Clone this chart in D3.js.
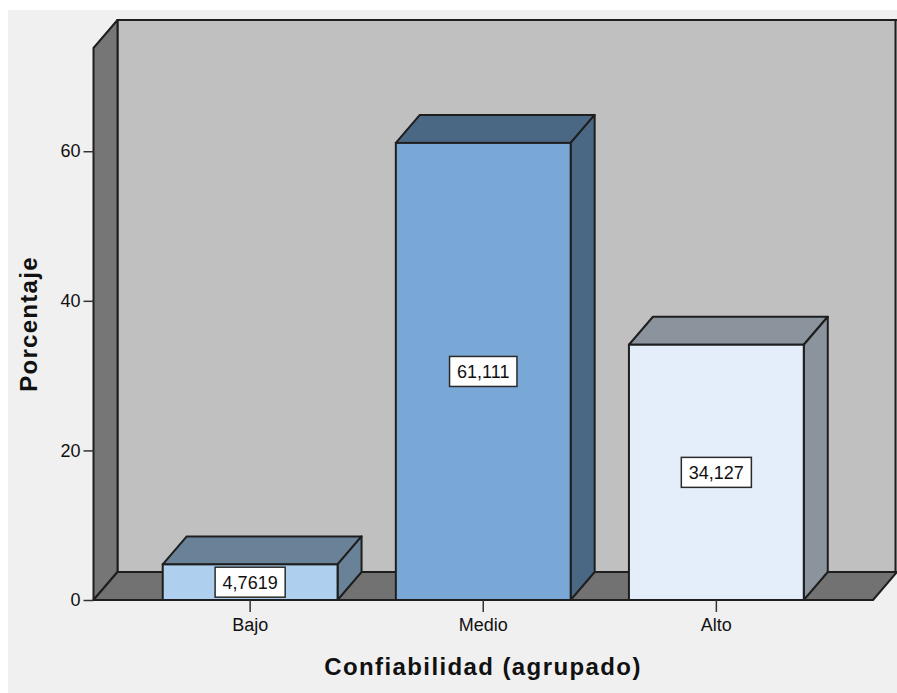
<!DOCTYPE html>
<html>
<head>
<meta charset="utf-8">
<script src="https://cdn.jsdelivr.net/npm/d3@7"></script>
<style>
  html, body { margin: 0; padding: 0; background: #ffffff; }
  svg { display: block; }
  text { font-family: "Liberation Sans", Arial, sans-serif; fill: #111; }
</style>
</head>
<body>
<svg id="chart" width="897" height="693"></svg>
<script>
// Percentage of cases per reliability group
const categories = ["Bajo", "Medio", "Alto"];
const values = [4.7619, 61.111, 34.127];
const valueLabels = ["4,7619", "61,111", "34,127"];
const yTicks = [0, 20, 40, 60];
const yMax = 73.8;

const frontColors = ["#aed0ee", "#7aa8d6", "#e3eefa"];
const shadeColors = ["#6a8298", "#4a6784", "#8b939c"];

const W = 897, H = 693;
const depthX = 24, depthY = 28;   // oblique offset of the 3D box
const x0 = 93.5, x1 = 873;        // front edge of the floor
const yBase = 600, yTop = 48;

const svg = d3.select("#chart");

// panel background
svg.append("rect").attr("x", 8).attr("y", 10).attr("width", W - 8).attr("height", H - 10)
  .attr("fill", "#f0f0f0");

const x = d3.scaleBand().domain(categories).range([x0, x1])
  .paddingInner(0.25).paddingOuter(0.297);
const y = d3.scaleLinear().domain([0, yMax]).range([yBase, yTop]);

const line = d3.line();
const stroke = "#1e1e1e";

// back wall
svg.append("path")
  .attr("d", line([[x0 + depthX, y(yMax) - depthY], [W + 2, y(yMax) - depthY],
                   [W + 2, yBase - depthY], [x0 + depthX, yBase - depthY]]) + "Z")
  .attr("fill", "#c0c0c0").attr("stroke", stroke).attr("stroke-width", 2);
// right edge of back wall
svg.append("line").attr("x1", W - 1.5).attr("x2", W - 1.5)
  .attr("y1", y(yMax) - depthY).attr("y2", yBase - depthY)
  .attr("stroke", stroke).attr("stroke-width", 2);

// left wall
svg.append("path")
  .attr("d", line([[x0, y(yMax)], [x0 + depthX, y(yMax) - depthY],
                   [x0 + depthX, yBase - depthY], [x0, yBase]]) + "Z")
  .attr("fill", "#767676").attr("stroke", stroke).attr("stroke-width", 2)
  .attr("stroke-linejoin", "round");

// floor
svg.append("path")
  .attr("d", line([[x0, yBase], [x0 + depthX, yBase - depthY],
                   [x1 + depthX, yBase - depthY], [x1, yBase]]) + "Z")
  .attr("fill", "#727272").attr("stroke", stroke).attr("stroke-width", 2)
  .attr("stroke-linejoin", "round");

// bars
const bars = svg.append("g").selectAll("g").data(categories).join("g");
bars.each(function (c, i) {
  const g = d3.select(this);
  const bx = x(c), bw = x.bandwidth(), by = y(values[i]);
  // top face
  g.append("path")
    .attr("d", line([[bx, by], [bx + depthX, by - depthY], [bx + bw + depthX, by - depthY], [bx + bw, by]]) + "Z")
    .attr("fill", shadeColors[i]).attr("stroke", stroke).attr("stroke-width", 2).attr("stroke-linejoin", "round");
  // side face
  g.append("path")
    .attr("d", line([[bx + bw, by], [bx + bw + depthX, by - depthY], [bx + bw + depthX, yBase - depthY], [bx + bw, yBase]]) + "Z")
    .attr("fill", shadeColors[i]).attr("stroke", stroke).attr("stroke-width", 2).attr("stroke-linejoin", "round");
  // front face
  g.append("rect").attr("x", bx).attr("y", by).attr("width", bw).attr("height", yBase - by)
    .attr("fill", frontColors[i]).attr("stroke", stroke).attr("stroke-width", 2);
});

// front baseline
svg.append("line").attr("x1", x0).attr("x2", x1).attr("y1", yBase).attr("y2", yBase)
  .attr("stroke", stroke).attr("stroke-width", 2);

// value labels
bars.each(function (c, i) {
  const g = d3.select(this);
  const cx = x(c) + x.bandwidth() / 2;
  const cy = (y(values[i]) + yBase) / 2;
  const lab = g.append("g");
  const t = lab.append("text").attr("x", cx).attr("y", cy + 6.5)
    .attr("text-anchor", "middle").attr("font-size", 18).text(valueLabels[i]);
  const bb = t.node().getBBox();
  lab.insert("rect", "text")
    .attr("x", cx - bb.width / 2 - 7.5).attr("y", cy - 15)
    .attr("width", bb.width + 15).attr("height", 30)
    .attr("fill", "#ffffff").attr("stroke", "#2a2a2a").attr("stroke-width", 1.5);
});

// y axis
const yAxis = d3.axisLeft(y).tickValues(yTicks).tickSize(10).tickPadding(3)
  .tickFormat(d3.format("d"));
const ya = svg.append("g").attr("transform", `translate(${x0},0)`).call(yAxis);
ya.select(".domain").remove();
ya.selectAll(".tick line").attr("stroke", "#333").attr("stroke-width", 1.5);
ya.selectAll(".tick text").attr("font-size", 18).attr("fill", "#111")
  .attr("font-family", "Liberation Sans, Arial, sans-serif");

// x axis
const xAxis = d3.axisBottom(x).tickSize(12).tickPadding(6);
const xa = svg.append("g").attr("transform", `translate(0,${yBase})`).call(xAxis);
xa.select(".domain").remove();
xa.selectAll(".tick line").attr("stroke", "#333").attr("stroke-width", 1.5);
xa.selectAll(".tick text").attr("font-size", 18).attr("fill", "#111")
  .attr("font-family", "Liberation Sans, Arial, sans-serif");

// axis titles
svg.append("text").attr("x", 483).attr("y", 675).attr("text-anchor", "middle")
  .attr("font-size", 24).attr("font-weight", "bold").attr("letter-spacing", 1.4)
  .text("Confiabilidad (agrupado)");
svg.append("text").attr("transform", "translate(37,324) rotate(-90)")
  .attr("text-anchor", "middle").attr("font-size", 24).attr("font-weight", "bold")
  .attr("letter-spacing", 1.3).text("Porcentaje");
</script>
</body>
</html>
